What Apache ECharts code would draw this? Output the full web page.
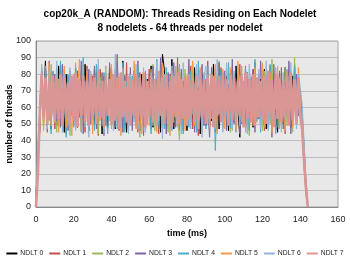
<!DOCTYPE html>
<html><head><meta charset="utf-8">
<script src="https://cdn.jsdelivr.net/npm/echarts@6/dist/echarts.min.js"></script>
<style>html,body{margin:0;padding:0;background:#fff}#c{width:350px;height:263px}</style>
</head><body><div id="c"></div>
<script>
const seriesNames = ['NDLT 0','NDLT 1','NDLT 2','NDLT 3','NDLT 4','NDLT 5','NDLT 6','NDLT 7'];
const seriesColors = ['#000000','#C0504D','#9BBB59','#8064A2','#4BACC6','#F79646','#95B3D7','#D99694'];
const times = [];
for (let t = 0; t <= 144; t++) times.push(t);
const ndlt0 = [8,28,46,82,60,88,52,74,47,79, 63,49,85,57,71,45,80,66,51,76, 58,83,48,69,77,53,86,61,46,72, 67,50,81,56,74,44,79,62,48,84, 55,70,47,78,64,52,88,59,45,75, 68,49,82,57,73,46,80,63,51,77, 60,85,48,71,54,79,45,92,83,52, 74,58,89,47,69,56,81,50,76,62, 46,78,65,53,84,57,72,44,80,61, 49,75,67,52,86,59,70,47,82,63, 55,79,46,73,64,51,85,58,42,76, 68,50,81,56,74,48,87,62,53,77, 59,83,47,71,65,52,80,57,45,78, 64,50,84,55,73,48,79,61,53,75, 66,49,30,12,0];
const ndlt1 = [5,22,50,78,55,84,49,70,58,81, 47,73,62,86,51,68,44,79,57,74, 66,48,82,54,76,60,45,85,52,71, 79,56,67,43,83,58,75,49,70,61, 84,50,72,57,46,80,63,54,87,48, 69,77,53,62,45,81,59,74,50,66, 83,47,70,56,78,44,64,86,51,73, 58,80,49,67,55,90,46,72,61,79, 52,68,85,47,75,60,43,82,57,70, 64,88,50,74,56,45,79,62,84,48, 72,58,66,81,47,76,53,69,86,50, 61,78,45,73,57,83,49,67,80,54, 75,46,70,59,85,51,64,77,48,82, 56,71,44,80,60,68,52,86,58,72, 63,45,24,8,0];
const ndlt2 = [3,35,55,74,47,80,63,52,86,58, 71,45,77,60,49,83,55,68,43,79, 62,87,51,73,46,81,57,66,48,76, 53,84,61,44,78,67,50,85,56,70, 47,75,63,88,52,69,45,80,58,73, 81,49,66,55,84,42,71,60,77,50, 68,54,86,46,74,61,82,48,70,57, 45,79,63,51,85,56,40,76,65,83, 50,72,58,87,47,67,54,78,44,81, 60,73,49,84,55,69,46,88,62,52, 80,57,70,45,83,64,50,76,59,85, 48,71,62,43,79,55,87,51,68,74, 46,82,58,66,50,89,54,72,61,47, 78,53,84,49,70,63,45,90,57,68, 59,48,27,10,0];
const ndlt3 = [6,25,60,84,51,76,45,88,57,69, 80,52,65,48,86,59,73,46,82,55, 70,49,79,63,88,44,75,58,83,50, 67,85,47,72,56,81,43,77,60,87, 53,66,48,92,58,74,45,79,62,51, 84,46,70,57,88,52,67,43,80,61, 75,49,85,55,68,47,90,59,72,44, 81,53,64,87,48,76,57,83,46,70, 62,89,51,73,45,80,55,66,86,49, 77,58,42,84,60,71,47,87,54,68, 82,46,74,56,89,50,65,79,44,72, 57,85,48,69,61,83,45,76,53,88, 64,49,80,56,73,42,86,59,70,51, 84,47,75,58,88,44,69,62,80,55, 70,56,38,15,0];
const ndlt4 = [2,30,48,79,62,85,50,71,44,82, 56,74,47,88,60,67,42,80,54,76, 48,84,59,72,45,90,57,68,51,79, 63,46,86,55,73,49,81,60,44,77, 70,52,83,47,66,58,87,45,75,61, 50,79,64,48,85,55,72,46,82,59, 67,44,78,57,89,49,74,62,47,84, 53,71,46,80,63,52,86,58,44,77, 69,48,82,56,74,45,88,60,51,79, 47,85,63,53,77,34,70,59,83,49, 74,55,87,48,68,61,45,81,57,72, 50,84,62,46,78,56,89,52,69,45, 82,59,73,48,86,54,67,44,79,61, 52,76,47,83,58,71,50,85,63,74, 68,58,35,14,0];
const ndlt5 = [4,26,52,81,46,77,59,87,49,73, 64,83,45,70,57,85,48,74,61,43, 80,55,67,89,46,72,59,82,50,69, 44,78,63,85,52,68,47,80,56,73, 86,49,71,55,79,43,84,60,66,48, 76,58,88,47,70,62,44,81,53,75, 49,83,57,69,45,77,64,87,51,72, 60,43,82,55,74,48,85,59,67,46, 79,53,70,88,49,63,57,84,45,73, 56,80,48,68,61,86,44,75,52,83, 47,70,59,84,53,78,46,88,62,51, 76,45,81,57,67,49,84,54,72,60, 87,48,74,55,81,45,68,62,85,50, 70,58,46,82,55,77,48,73,60,84, 62,52,33,11,0];
const ndlt6 = [7,38,58,86,53,75,47,82,60,70, 52,88,57,72,45,80,63,49,84,58, 73,46,78,61,53,87,48,70,42,82, 59,74,50,89,55,66,45,81,62,52, 78,46,92,57,69,48,83,55,72,44, 80,60,51,86,47,73,58,84,45,70, 56,81,49,67,88,52,74,41,80,61, 71,47,85,58,66,50,79,44,87,55, 62,80,47,73,57,86,51,69,42,78, 85,50,66,59,79,47,89,56,71,45, 63,87,52,75,46,82,58,68,49,80, 55,72,44,86,60,77,51,65,83,47, 70,57,88,46,75,62,49,84,55,73, 45,81,59,68,51,87,57,76,47,80, 72,62,40,18,2];
const ndlt7 = [0,20,56,80,54,78,50,76,55,79, 51,77,53,80,49,78,56,75,50,79, 52,81,48,77,55,79,51,76,49,80, 54,78,50,82,53,76,48,79,55,77, 50,80,52,78,47,81,54,76,51,79, 49,77,55,80,50,78,53,81,48,76, 54,79,51,77,49,82,55,78,50,80, 52,76,48,79,54,81,50,77,53,78, 49,80,55,76,51,79,47,82,54,77, 50,78,53,80,48,76,55,79,51,81, 54,77,49,80,52,78,50,76,55,79, 48,81,53,77,51,80,49,78,54,76, 52,79,50,82,55,77,48,80,53,78, 51,76,54,79,49,81,52,77,50,78, 55,47,28,12,0];
const allData = [ndlt0,ndlt1,ndlt2,ndlt3,ndlt4,ndlt5,ndlt6,ndlt7];
const xTicks = {min:0,max:160,interval:20};
const yTicks = {min:0,max:100,interval:10};

const chart = echarts.init(document.getElementById('c'), null, {renderer:'canvas'});
const font = 'Liberation Sans, Arial, sans-serif';
chart.setOption({
  animation:false,
  color: seriesColors,
  title:{text:'cop20k_A (RANDOM): Threads Residing on Each Nodelet\n8 nodelets - 64 threads per nodelet',
    left:175, textAlign:'center', top:2,
    textStyle:{fontFamily:font,fontSize:10,fontWeight:'bold',color:'#000',lineHeight:14}},
  grid:{left:36,right:12,top:41,bottom:56,containLabel:false,outerBoundsMode:'none',
    show:true,backgroundColor:'#e8e8e8',borderColor:'#a0a0a0',borderWidth:1},
  legend:{bottom:6,left:'center',padding:0,width:350,icon:'rect',itemWidth:11,itemHeight:2,itemGap:6,
    textStyle:{fontFamily:font,fontSize:6.8,color:'#222',padding:[0,0,0,-2]},data:seriesNames},
  xAxis:{type:'value',min:xTicks.min,max:xTicks.max,interval:xTicks.interval,
    name:'time (ms)',nameLocation:'middle',nameGap:22,nameMoveOverlap:false,
    nameTextStyle:{fontFamily:font,fontSize:9,fontWeight:'bold',color:'#000'},
    axisLine:{show:true,lineStyle:{color:'#888'}},axisTick:{show:false},
    axisLabel:{fontFamily:font,fontSize:9,color:'#222',margin:8},
    splitLine:{show:false}},
  yAxis:{type:'value',min:yTicks.min,max:yTicks.max,interval:yTicks.interval,
    name:'number of threads',nameLocation:'middle',nameGap:26,nameMoveOverlap:false,
    nameTextStyle:{fontFamily:font,fontSize:9,fontWeight:'bold',color:'#000',verticalAlign:'middle'},
    axisLine:{show:true,lineStyle:{color:'#888'}},axisTick:{show:false},
    axisLabel:{fontFamily:font,fontSize:9,color:'#222',margin:5},
    splitLine:{show:true,lineStyle:{color:'#bdbdbd',width:1}}},
  series: allData.map((d,i)=>({
    name:seriesNames[i],type:'line',symbol:'none',
    data:times.map((t,k)=>[t,d[k]]),
    lineStyle:{width:i===7?2.6:1,color:seriesColors[i]},
    itemStyle:{color:seriesColors[i]}
  }))
});
</script></body></html>
